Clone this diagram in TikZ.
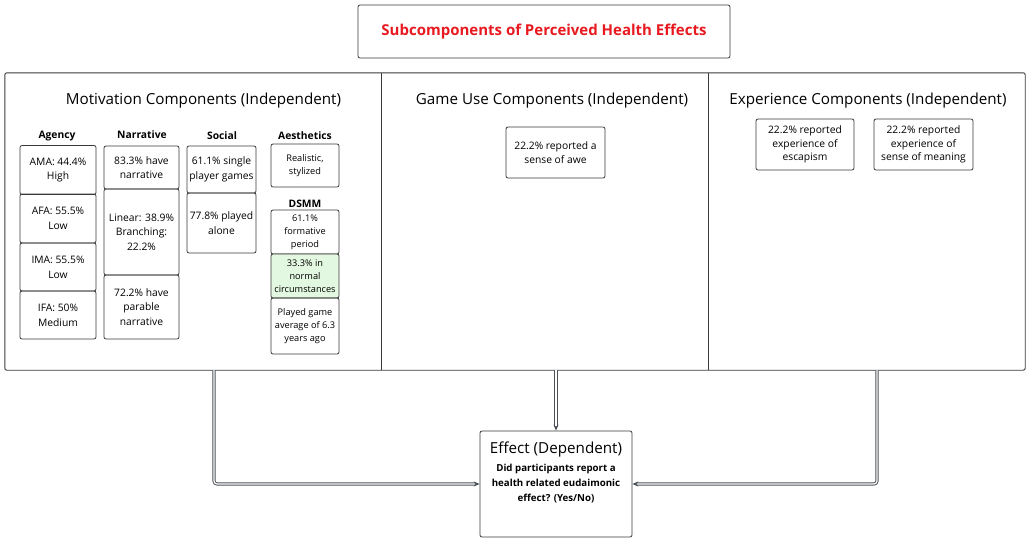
\documentclass[tikz,border=0pt]{standalone}
\usepackage{fontspec}
\setmainfont{Open Sans}
\usetikzlibrary{positioning,arrows.meta}

\definecolor{edgegray}{HTML}{3A3A3A}
\definecolor{titlered}{HTML}{E8191F}
\definecolor{dsmmgreen}{HTML}{E3F8E0}
\definecolor{linkgray}{HTML}{4D5258}

\begin{document}
\begin{tikzpicture}[x=1pt,y=-1pt]
\tikzset{
	panel/.style={minimum height=297pt, inner sep=0pt},
	cell/.style={draw=edgegray, line width=0.8pt, rounded corners=2pt,
		align=center, inner sep=1pt, font=\fontsize{10.3}{14.7}\selectfont},
	smallcell/.style={cell, font=\fontsize{9.2}{13.2}\selectfont},
	colhead/.style={font=\bfseries\fontsize{10.3}{12}\selectfont},
	paneltitle/.style={font=\fontsize{15.2}{17}\selectfont},
	link/.style={draw=linkgray, double=white, double distance=1.2pt,
		line width=0.95pt, rounded corners=3pt, -{Stealth[length=6pt,width=5pt]}},
}
\useasboundingbox (0,0) rectangle (1026,539);

% title
\node[draw=edgegray, line width=0.8pt, rounded corners=2pt, minimum width=372pt,
	minimum height=53pt, text=titlered, font=\bfseries\fontsize{15}{18}\selectfont]
	(TITLE) at (544,31.5) {Subcomponents of Perceived Health Effects};

% the three panels
\node[panel, minimum width=376pt] (motiv) at (193,221.5) {};
\node[panel, minimum width=327pt] (gameuse) at (544.5,221.5) {};
\node[panel, minimum width=317pt] (experience) at (866.5,221.5) {};
\draw[edgegray, line width=0.9pt, rounded corners=2pt] (motiv.north west) rectangle (experience.south east);
\draw[edgegray, line width=0.9pt] (motiv.north east) -- (motiv.south east);
\draw[edgegray, line width=0.9pt] (gameuse.north east) -- (gameuse.south east);

\node[paneltitle] (MOTLBL) at (203.5,101) {Motivation Components (Independent)};
\node[paneltitle] (GAMLBL) at (552,101) {Game Use Components (Independent)};
\node[paneltitle] (EXPLBL) at (868,101) {Experience Components (Independent)};

% motivation columns
\node[colhead] (AGYLBL) at (57,136) {Agency};
\node[colhead] (NARLBL) at (142,135) {Narrative};
\node[colhead] (SOCLBL) at (222,136) {Social};
\node[colhead] (AESLBL) at (305,136) {Aesthetics};
\node[colhead] (DSMLBL) at (305,204) {DSMM};

\node[cell, minimum width=76pt, minimum height=49pt] (ama) at (58,170) {AMA: 44.4\%\\High};
\node[cell, minimum width=76pt, minimum height=49pt] (afa) at (58,218.5) {AFA: 55.5\%\\Low};
\node[cell, minimum width=76pt, minimum height=48pt] (ima) at (58,267) {IMA: 55.5\%\\Low};
\node[cell, minimum width=76pt, minimum height=48pt] (ifa) at (58,315) {IFA: 50\%\\Medium};

\node[cell, minimum width=75pt, minimum height=43pt] (hasnar) at (141.5,167.5) {83.3\% have\\narrative};
\node[cell, minimum width=75pt, minimum height=86pt] (linear) at (141.5,232) {Linear: 38.9\%\\Branching:\\22.2\%};
\node[cell, minimum width=75pt, minimum height=64pt] (parable) at (141.5,307) {72.2\% have\\parable\\narrative};

\node[cell, minimum width=69pt, minimum height=47pt] (single) at (221.5,169.5) {61.1\% single\\player games};
\node[cell, minimum width=69pt, minimum height=60pt] (alone) at (221.5,223) {77.8\% played\\alone};

\node[smallcell, minimum width=68pt, minimum height=43pt] (realistic) at (305,165.5) {Realistic,\\stylized};
\node[smallcell, minimum width=68pt, minimum height=44pt] (formative) at (305,232) {61.1\%\\formative\\period};
\node[smallcell, fill=dsmmgreen, minimum width=68pt, minimum height=44pt] (normal) at (305,276) {33.3\% in\\normal\\circumstances};
\node[smallcell, minimum width=68pt, minimum height=56pt] (yearsago) at (305,326) {Played game\\average of 6.3\\years ago};

% game use and experience
\node[cell, minimum width=99pt, minimum height=51pt] (awe) at (555.5,152.5) {22.2\% reported a\\sense of awe};
\node[cell, font=\fontsize{10.3}{13.7}\selectfont, minimum width=98pt, minimum height=51pt] (escapism) at (805,144.5) {22.2\% reported\\experience of\\escapism};
\node[cell, font=\fontsize{10.3}{13.7}\selectfont, minimum width=99pt, minimum height=51pt] (meaning) at (923.5,144.5) {22.2\% reported\\experience of\\sense of meaning};

% effect
\node[cell, minimum width=152pt, minimum height=106pt] (effect) at (556,484) {};
\node[paneltitle] (EFFLBL) at ([yshift=-19pt]effect.north) {Effect (Dependent)};
\node[align=center, font=\bfseries\fontsize{9.7}{14.7}\selectfont] (EFFQ) at ([yshift=0.5pt]effect.center) {Did participants report a\\health related eudaimonic\\effect? (Yes/No)};

\coordinate (gamefoot) at (gameuse.south -| effect.north);
{\draw[link] ([xshift=21pt]motiv.south) |- (effect.west);}
{\draw[link] (gamefoot) -- (effect.north);}
{\draw[link] ([xshift=10.5pt]experience.south) |- (effect.east);}

\end{tikzpicture}
\end{document}
